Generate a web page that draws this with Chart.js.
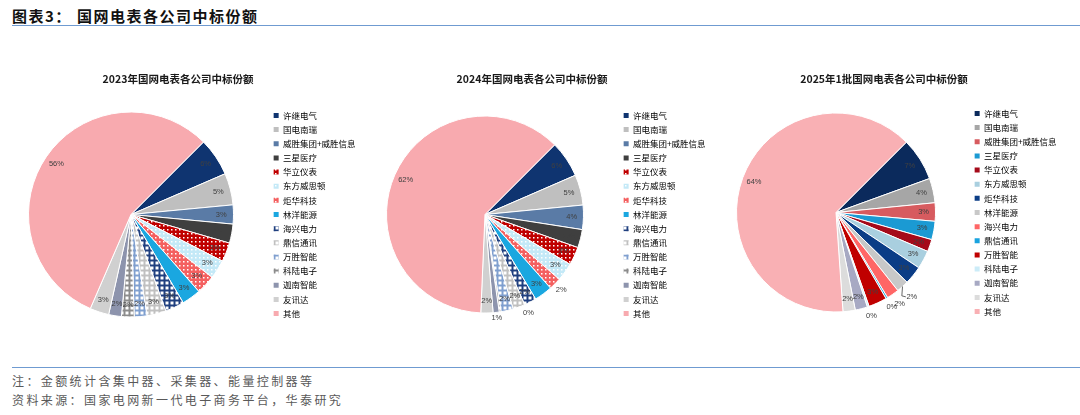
<!DOCTYPE html>
<html>
<head>
<meta charset="utf-8">
<script src="https://cdn.jsdelivr.net/npm/chart.js@4.4.1/dist/chart.umd.min.js"></script>
<style>
body { margin: 0; width: 1080px; height: 415px; position: relative; background: #fff; overflow: hidden; font-family: "Noto Sans CJK SC", sans-serif; }
.hd { position: absolute; top: 6px; font-size: 15px; line-height: 20px; font-weight: bold; color: #111; letter-spacing: 1.5px; }
.rule { position: absolute; left: 12px; right: 0; height: 1px; background: #6f9bd1; }
.ft { position: absolute; left: 12px; font-size: 12px; line-height: 16px; color: #595959; letter-spacing: 2.4px; }
.box { position: absolute; top: 60px; height: 280px; }
</style>
</head>
<body>
<div class="hd" style="left:12px">图表3：</div>
<div class="hd" style="left:77px">国网电表各公司中标份额</div>
<div class="rule" style="top:25px"></div>

<div class="box" style="left:-6px;width:368px"><canvas id="c2023"></canvas></div>
<div class="box" style="left:352px;width:360px"><canvas id="c2024"></canvas></div>
<div class="box" style="left:703px;width:362px"><canvas id="c2025"></canvas></div>

<div class="rule" style="top:367px"></div>
<div class="ft" style="top:373px">注：金额统计含集中器、采集器、能量控制器等</div>
<div class="ft" style="top:392px">资料来源：国家电网新一代电子商务平台，华泰研究</div>

<script>
// companies in legend order
var companies = ['许继电气', '国电南瑞', '威胜集团+威胜信息', '三星医疗', '华立仪表', '东方威思顿', '炬华科技',
    '林洋能源', '海兴电力', '鼎信通讯', '万胜智能', '科陆电子', '迦南智能', '友讯达', '其他'];

// share of winning bids, % (0% slices kept as tiny values)
var share2023 = [6, 5, 3, 3, 3, 3, 3, 3, 3, 3, 2, 2, 2, 3, 56];
var share2024 = [6, 5, 4, 3, 3, 3, 2, 3, 2, 2, 2, 0.3, 1, 2, 62];
var share2025 = [7, 4, 3, 3, 2, 3, 3, 2, 2, 0.3, 3, 0.3, 2, 2, 64];

var title2023 = '2023年国网电表各公司中标份额';
var title2024 = '2024年国网电表各公司中标份额';
var title2025 = '2025年1批国网电表各公司中标份额';

// fill helpers for the patterned slices
function dots(base) {
    var c = document.createElement('canvas');
    c.width = 4; c.height = 4;
    var g = c.getContext('2d');
    g.fillStyle = base; g.fillRect(0, 0, 4, 4);
    g.fillStyle = '#fff'; g.fillRect(1, 1, 1.5, 1.5);
    return g.createPattern(c, 'repeat');
}
function grid(line) {
    var c = document.createElement('canvas');
    c.width = 5; c.height = 5;
    var g = c.getContext('2d');
    g.fillStyle = line; g.fillRect(0, 0, 5, 5);
    g.fillStyle = '#fff'; g.fillRect(1.5, 1.5, 3, 3);
    return g.createPattern(c, 'repeat');
}

var colors2023 = [
    '#0f3470', '#bfbfbf', '#5a7ba6', '#3f3f3f', dots('#c00000'), dots('#c4e9f7'), dots('#f46060'),
    '#1aa7e0', grid('#1f3f7f'), grid('#c0c0c0'), grid('#7f9fcf'), grid('#8c8c8c'), '#8d94ad', '#d0d0d0', '#f8aaaf'
];
var colors2025 = [
    '#0b2a5c', '#a6a6a6', '#d75b5f', '#1b9ad3', '#a50a1a', '#a9cfdf', '#0b3d86',
    '#c8c8c8', '#ff6666', '#19a3df', '#c00000', '#ccecf8', '#a7a9c3', '#dcdcdc', '#f9b0b4'
];

// fixed legend width so the pie and legend sit where the original has them
var legendWidth = {
    id: 'legendWidth',
    afterInit: function (chart, args, opts) {
        var lg = chart.legend;
        var fit = lg.fit;
        lg.fit = function () { fit.call(this); this.width = opts.width; };
    }
};

// percentage labels on the slices; outside = {index: [radius factor, leader line, angle shift in deg]}
var pctLabels = {
    id: 'pctLabels',
    afterDatasetsDraw: function (chart, args, opts) {
        var ctx = chart.ctx;
        var vals = chart.data.datasets[0].data;
        var total = vals.reduce(function (a, b) { return a + b; }, 0);
        var out = opts.outside || {};
        ctx.save();
        ctx.font = '7.5px "Liberation Sans", Arial, sans-serif';
        ctx.fillStyle = '#404040';
        ctx.strokeStyle = '#404040';
        ctx.lineWidth = 0.8;
        ctx.textAlign = 'center';
        ctx.textBaseline = 'middle';
        chart.getDatasetMeta(0).data.forEach(function (arc, i) {
            var p = arc.getProps(['x', 'y', 'startAngle', 'endAngle', 'outerRadius'], true);
            var mid = (p.startAngle + p.endAngle) / 2;
            var o = out[i];
            var f = o ? o[0] : 0.88;
            var a = mid + (o && o[2] ? o[2] * Math.PI / 180 : 0);
            var lx = p.x + Math.cos(a) * p.outerRadius * f;
            var ly = p.y + Math.sin(a) * p.outerRadius * f;
            if (o && o[1]) {
                ctx.beginPath();
                ctx.moveTo(p.x + Math.cos(mid) * p.outerRadius, p.y + Math.sin(mid) * p.outerRadius);
                ctx.lineTo(lx - 10, ly - 1);
                ctx.lineTo(lx - 6, ly);
                ctx.stroke();
            }
            ctx.fillText(Math.round(vals[i] / total * 100) + '%', lx, ly);
        });
        ctx.restore();
    }
};

function drawPie(id, title, values, colors, radius, padBottom, legW, outside) {
    new Chart(document.getElementById(id), {
        type: 'pie',
        data: {
            labels: companies,
            datasets: [{
                data: values,
                backgroundColor: colors,
                borderColor: '#ffffff',
                borderWidth: 1,
                hoverOffset: 0,
                radius: radius
            }]
        },
        options: {
            responsive: true,
            maintainAspectRatio: false,
            animation: false,
            rotation: 45,
            layout: { padding: { left: 0, right: 0, top: 0, bottom: padBottom } },
            plugins: {
                title: {
                    display: true,
                    text: title,
                    color: '#1a1a1a',
                    font: { family: '"Noto Sans CJK SC", sans-serif', size: 10.5, weight: 'bold' },
                    padding: { top: 13, bottom: 10 }
                },
                legend: {
                    position: 'right',
                    fullSize: false,
                    align: 'center',
                    labels: {
                        boxWidth: 5,
                        boxHeight: 5,
                        padding: 5.65,
                        color: '#404040',
                        font: { family: '"Noto Sans CJK SC", sans-serif', size: 8.5 },
                        generateLabels: function (chart) {
                            return chart.data.labels.map(function (t, i) {
                                return { text: t, fillStyle: chart.data.datasets[0].backgroundColor[i],
                                    strokeStyle: 'rgba(0,0,0,0)', lineWidth: 0, hidden: false, index: i };
                            });
                        }
                    }
                },
                tooltip: { enabled: false },
                legendWidth: { width: legW },
                pctLabels: { outside: outside }
            }
        },
        plugins: [legendWidth, pctLabels]
    });
}

drawPie('c2023', title2023, share2023, colors2023, 102.5, 6.6, 94, {});
drawPie('c2024', title2024, share2024, colors2023, 98.5, 6.6, 94, { 6: [1.09], 11: [1.09, false, -15], 12: [1.06] });
drawPie('c2025', title2025, share2025, colors2025, 99.5, 10.6, 96, { 7: [1.14, true], 8: [1.12], 9: [1.1], 11: [1.1] });
</script>
</body>
</html>
